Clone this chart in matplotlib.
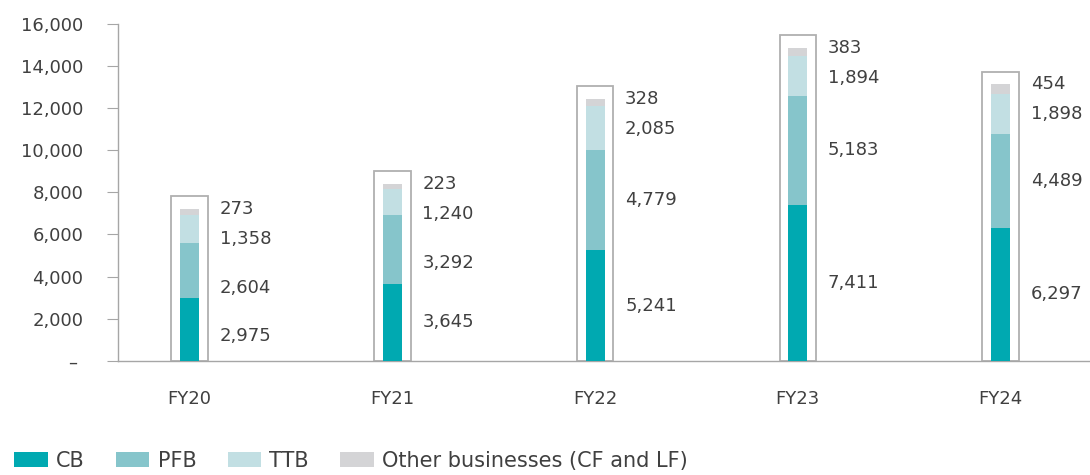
import matplotlib
matplotlib.use("Agg")
import matplotlib.pyplot as plt
from matplotlib.patches import Patch
from matplotlib.ticker import FuncFormatter
import numpy as np

# Segment values per fiscal year (bottom to top)
years = ["FY20", "FY21", "FY22", "FY23", "FY24"]
cb = [2975, 3645, 5241, 7411, 6297]
pfb = [2604, 3292, 4779, 5183, 4489]
ttb = [1358, 1240, 2085, 1894, 1898]
other = [273, 223, 328, 383, 454]

series_names = ["CB", "PFB", "TTB", "Other businesses (CF and LF)"]
series_colors = ["#00A9B1", "#86C5CB", "#C2DFE3", "#D4D4D6"]

TEXT = "#404040"
GRID = "#A6A6A6"
plt.rcParams["font.family"] = "DejaVu Sans"

fig = plt.figure(figsize=(10.9, 4.75), dpi=100)
ax = fig.add_axes([118 / 1090, 1 - 360.7 / 475, 972 / 1090, 336.7 / 475])

x = np.arange(len(years))
stack = [cb, pfb, ttb, other]
bottom = np.zeros(len(years))
bar_w = 0.094
for vals, col in zip(stack, series_colors):
    ax.bar(x, vals, width=bar_w, bottom=bottom, color=col, linewidth=0, zorder=3)
    bottom += np.array(vals)
totals = bottom.copy()

# outline frame around each stack, a little taller than the total
box_pad = 600
ax.bar(x, totals + box_pad, width=0.18, facecolor="none", edgecolor="#B0B0B0",
       linewidth=1.3, zorder=2)

# value labels: top one level with the stack top, the rest at segment
# midpoints unless that would crowd the label above
top_gap = 1420
min_gap = 2320
for i in range(len(years)):
    segs = [s[i] for s in stack]
    base = np.concatenate([[0], np.cumsum(segs)[:-1]])
    mids = base + np.array(segs) / 2
    ys = [None] * 4
    ys[3] = totals[i]
    ys[2] = min(mids[2], ys[3] - top_gap)
    for k in (1, 0):
        ys[k] = min(mids[k], ys[k + 1] - min_gap)
    for k in range(4):
        ax.text(x[i] + 0.148, ys[k], f"{segs[k]:,}", ha="left", va="center",
                fontsize=13, color=TEXT)

ax.set_xlim(-0.353, 4.441)
ax.set_ylim(0, 16000)
ax.set_yticks(np.arange(0, 16001, 2000))
ax.yaxis.set_major_formatter(FuncFormatter(lambda v, p: "– " if v == 0 else f"{int(v):,}"))
ax.set_xticks(x)
ax.set_xticklabels(years)

for side in ("top", "right"):
    ax.spines[side].set_visible(False)
for side in ("left", "bottom"):
    ax.spines[side].set_color(GRID)
    ax.spines[side].set_linewidth(1.0)

ax.tick_params(axis="y", length=8, color=GRID, pad=17, labelsize=13, labelcolor=TEXT)
ax.tick_params(axis="x", length=0, pad=21, labelsize=13, labelcolor=TEXT)

handles = [Patch(facecolor=c, edgecolor="none") for c in series_colors]
fig.legend(handles, series_names, loc="center left", bbox_to_anchor=(6 / 1090, 14 / 475),
           ncol=4, frameon=False, fontsize=15, labelcolor=TEXT,
           handlelength=1.6, handleheight=0.75, handletextpad=0.4, columnspacing=1.5,
           borderaxespad=0)

fig.savefig("out.png", dpi=100)
